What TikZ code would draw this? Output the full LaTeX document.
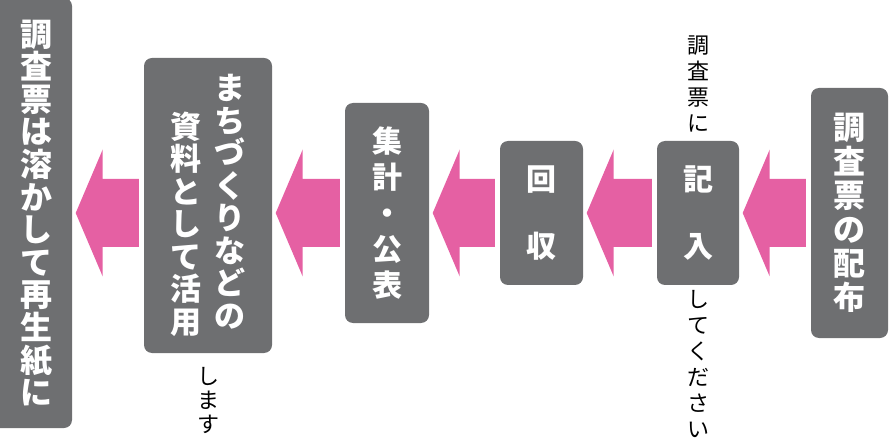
\documentclass[tikz,border=0pt]{standalone}
\usepackage{fontspec}
\newfontfamily\jpfont{Noto Sans CJK JP}
\usetikzlibrary{calc,positioning}
\definecolor{cardgray}{RGB}{110,111,113}
\definecolor{flowpink}{RGB}{229,96,163}

\begin{document}
\begin{tikzpicture}[
  x=1pt,
  y=1pt,
  card/.style={fill=cardgray, rounded corners=8pt, inner sep=0pt, text=white, align=center},
  lbl/.style={inner sep=0pt, text=white, align=center},
  note/.style={inner sep=0pt, align=center, font=\jpfont\fontsize{22}{26}\selectfont},
  flow/.style={fill=flowpink}
]
  \useasboundingbox (0,0) rectangle (890,439);
  \clip (0,0) rectangle (890,439);

  % steps, right to left
  \node[card, minimum width=77, minimum height=250, font=\jpfont\bfseries\fontsize{32}{34}\selectfont] (b6) at (849.5,226) {調\\査\\票\\の\\配\\布};
  \node[card, minimum width=82, minimum height=144, font=\jpfont\bfseries\fontsize{30}{67}\selectfont] (b5) at (698,226) {記\\入};
  \node[card, minimum width=83, minimum height=144, font=\jpfont\bfseries\fontsize{30}{67}\selectfont] (b4) at (541.5,226) {回\\収};
  \node[card, minimum width=84, minimum height=220, font=\jpfont\bfseries\fontsize{30}{36}\selectfont] (b3) at (387,226) {集\\計\\・\\公\\表};
  \node[card, minimum width=128, minimum height=295, font=\jpfont\bfseries\fontsize{31}{32.5}\selectfont] (b2) at (208,233.5)
    {\raisebox{-6pt}{\parbox[b]{34pt}{\centering 資\\料\\と\\し\\て\\活\\用}}\hspace{10pt}\parbox[b]{34pt}{\centering ま\\ち\\づ\\く\\り\\な\\ど\\の}};
  \node[card, minimum width=86, minimum height=430] (b1) at (29,226) {};
  \node[lbl, font=\jpfont\bfseries\fontsize{32}{32.6}\selectfont] (t1) at (36,226) {調\\査\\票\\は\\溶\\か\\し\\て\\再\\生\\紙\\に};

  % side notes
  \node[note, above=8pt of b5] (n1) {調\\査\\票\\に};
  \node[note, below=5pt of b5] (n2) {し\\て\\く\\だ\\さ\\い};
  \node[note, below=14pt of b2, font=\jpfont\fontsize{22}{24}\selectfont] (n3) {し\\ま\\す};

  % arrows
  \fill[flow] let \p1=(b5.east), \p2=(b6.west) in
    ({\x2-5pt},260pt) -- ({\x1+30.5pt},260pt) -- ({\x1+30.5pt},289.5pt) -- ({\x1+3.5pt},226pt)
    -- ({\x1+30.5pt},162.5pt) -- ({\x1+30.5pt},192pt) -- ({\x2-5pt},192pt) -- cycle;
  \fill[flow] let \p1=(b4.east), \p2=(b5.west) in
    ({\x2-5pt},260pt) -- ({\x1+30.5pt},260pt) -- ({\x1+30.5pt},289.5pt) -- ({\x1+3.5pt},226pt)
    -- ({\x1+30.5pt},162.5pt) -- ({\x1+30.5pt},192pt) -- ({\x2-5pt},192pt) -- cycle;
  \fill[flow] let \p1=(b3.east), \p2=(b4.west) in
    ({\x2-5pt},260pt) -- ({\x1+30.5pt},260pt) -- ({\x1+30.5pt},289.5pt) -- ({\x1+3.5pt},226pt)
    -- ({\x1+30.5pt},162.5pt) -- ({\x1+30.5pt},192pt) -- ({\x2-5pt},192pt) -- cycle;
  \fill[flow] let \p1=(b2.east), \p2=(b3.west) in
    ({\x2-5pt},260pt) -- ({\x1+30.5pt},260pt) -- ({\x1+30.5pt},289.5pt) -- ({\x1+3.5pt},226pt)
    -- ({\x1+30.5pt},162.5pt) -- ({\x1+30.5pt},192pt) -- ({\x2-5pt},192pt) -- cycle;
  \fill[flow] let \p1=(b1.east), \p2=(b2.west) in
    ({\x2-5pt},260pt) -- ({\x1+30.5pt},260pt) -- ({\x1+30.5pt},289.5pt) -- ({\x1+3.5pt},226pt)
    -- ({\x1+30.5pt},162.5pt) -- ({\x1+30.5pt},192pt) -- ({\x2-5pt},192pt) -- cycle;
\end{tikzpicture}
\end{document}
